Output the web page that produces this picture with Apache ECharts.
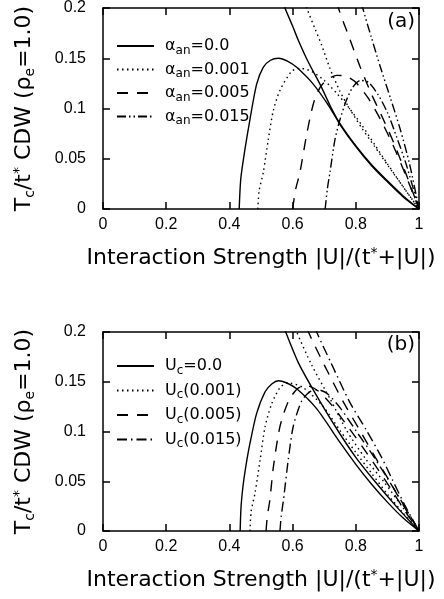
<!DOCTYPE html>
<html>
<head>
<meta charset="utf-8">
<script src="https://cdn.jsdelivr.net/npm/echarts@6/dist/echarts.min.js"></script>
<style>
  html, body { margin: 0; padding: 0; background: #fff; }
  #chart { width: 444px; height: 599px; }
</style>
</head>
<body>
<div id="chart"></div>
<script>
// panel (a): alpha_an curves, each has a dome branch and an upper branch
const a0Dome = [[0.431, 0], [0.436, 0.03], [0.449, 0.059], [0.465, 0.089], [0.486, 0.124], [0.507, 0.141], [0.53, 0.148], [0.555, 0.150], [0.585, 0.147], [0.613, 0.141], [0.666, 0.124], [0.718, 0.101], [0.75, 0.084], [0.8, 0.062], [0.85, 0.043], [0.9, 0.027], [0.95, 0.012], [1, 0]]
const a0Upper = [[0.55, 0.225], [0.576, 0.2], [0.6, 0.182], [0.618, 0.168], [0.65, 0.146], [0.687, 0.124], [0.72, 0.102], [0.75, 0.085], [0.8, 0.063], [0.85, 0.044], [0.9, 0.028], [0.95, 0.013], [1, 0]]
const a1Dome = [[0.49, 0], [0.494, 0.018], [0.507, 0.036], [0.523, 0.069], [0.539, 0.098], [0.56, 0.118], [0.597, 0.137], [0.625, 0.14], [0.66, 0.137], [0.7, 0.128], [0.74, 0.115], [0.78, 0.1], [0.82, 0.083], [0.86, 0.064], [0.9, 0.045], [0.95, 0.022], [1, 0]]
const a1Upper = [[0.62, 0.225], [0.645, 0.2], [0.67, 0.18], [0.692, 0.163], [0.718, 0.14], [0.75, 0.117], [0.78, 0.1], [0.82, 0.08], [0.86, 0.062], [0.9, 0.044], [0.95, 0.022], [1, 0]]
const a2Dome = [[0.6, 0], [0.61, 0.02], [0.623, 0.036], [0.645, 0.075], [0.666, 0.105], [0.687, 0.121], [0.71, 0.129], [0.74, 0.133], [0.77, 0.132], [0.8, 0.126], [0.84, 0.11], [0.88, 0.088], [0.92, 0.062], [0.96, 0.032], [1, 0]]
const a2Upper = [[0.725, 0.225], [0.745, 0.2], [0.78, 0.17], [0.813, 0.142], [0.85, 0.114], [0.88, 0.094], [0.92, 0.066], [0.96, 0.034], [1, 0]]
const a3Dome = [[0.703, 0], [0.71, 0.02], [0.718, 0.036], [0.734, 0.069], [0.75, 0.089], [0.77, 0.108], [0.79, 0.121], [0.815, 0.128], [0.84, 0.126], [0.87, 0.114], [0.9, 0.096], [0.93, 0.071], [0.96, 0.044], [1, 0]]
const a3Upper = [[0.805, 0.225], [0.822, 0.2], [0.85, 0.17], [0.877, 0.142], [0.91, 0.11], [0.94, 0.08], [0.97, 0.045], [1, 0]]

// panel (b): U_c curves
const b0Dome = [[0.434, 0], [0.437, 0.025], [0.443, 0.045], [0.452, 0.065], [0.465, 0.088], [0.486, 0.118], [0.513, 0.14], [0.535, 0.148], [0.555, 0.151], [0.58, 0.149], [0.613, 0.143], [0.676, 0.123], [0.75, 0.089], [0.8, 0.067], [0.85, 0.047], [0.9, 0.029], [0.95, 0.013], [1, 0]]
const b0Upper = [[0.55, 0.222], [0.578, 0.2], [0.62, 0.168], [0.687, 0.13], [0.745, 0.1], [0.8, 0.074], [0.86, 0.05], [0.93, 0.024], [1, 0]]
const b1Dome = [[0.465, 0], [0.469, 0.02], [0.481, 0.038], [0.497, 0.071], [0.513, 0.105], [0.534, 0.128], [0.56, 0.144], [0.585, 0.149], [0.634, 0.144], [0.697, 0.125], [0.75, 0.101], [0.8, 0.079], [0.85, 0.058], [0.9, 0.037], [0.95, 0.018], [1, 0]]
const b1Upper = [[0.585, 0.222], [0.613, 0.2], [0.66, 0.167], [0.72, 0.132], [0.771, 0.101], [0.83, 0.073], [0.89, 0.049], [0.95, 0.023], [1, 0]]
const b2Dome = [[0.516, 0], [0.52, 0.015], [0.528, 0.031], [0.539, 0.064], [0.56, 0.105], [0.586, 0.13], [0.615, 0.143], [0.645, 0.146], [0.68, 0.141], [0.72, 0.128], [0.77, 0.107], [0.82, 0.085], [0.87, 0.062], [0.92, 0.038], [0.96, 0.018], [1, 0]]
const b2Upper = [[0.622, 0.222], [0.65, 0.2], [0.7, 0.167], [0.76, 0.13], [0.813, 0.101], [0.86, 0.075], [0.905, 0.051], [0.95, 0.026], [1, 0]]
const b3Dome = [[0.56, 0], [0.564, 0.015], [0.571, 0.031], [0.586, 0.071], [0.602, 0.105], [0.629, 0.131], [0.655, 0.14], [0.68, 0.142], [0.71, 0.138], [0.75, 0.124], [0.8, 0.101], [0.85, 0.078], [0.9, 0.053], [0.95, 0.027], [1, 0]]
const b3Upper = [[0.648, 0.222], [0.676, 0.2], [0.72, 0.17], [0.78, 0.13], [0.834, 0.101], [0.88, 0.075], [0.915, 0.052], [0.955, 0.026], [1, 0]]

const namesA = ['α_an=0.0', 'α_an=0.001', 'α_an=0.005', 'α_an=0.015']
const namesB = ['U_c=0.0', 'U_c(0.001)', 'U_c(0.005)', 'U_c(0.015)']

const xTicks = [0, 0.2, 0.4, 0.6, 0.8, 1]
const yTicks = [0, 0.05, 0.1, 0.15, 0.2]

const tickFont = 'Liberation Sans'
const textFont = 'DejaVu Sans'

const dashA = ['solid', [1.5, 3.5], [11, 9], [9, 3, 1.5, 3, 1.5, 3]]
const dashB = ['solid', [1.5, 3.5], [11, 9], [10, 4, 1.5, 4]]

// 'α_an=0.0' -> rich text with subscript
function toRich (label) {
  return '{n|' + label.replace(/_([a-z]+)/g, '}{s|$1}{n|') + '}'
}

const richText = {
  n: { fontFamily: textFont, fontSize: 16, color: '#000' },
  s: { fontFamily: textFont, fontSize: 12, color: '#000', padding: [9, 0, 0, 0] }
}

const titleRich = {
  n: { fontFamily: textFont, fontSize: 22, color: '#000' },
  s: { fontFamily: textFont, fontSize: 14, color: '#000', padding: [11, 0, 0, 0] },
  p: { fontFamily: textFont, fontSize: 14, color: '#000', padding: [0, 0, 11, 0] }
}

const black = { color: '#000', width: 1.5 }

function xAxis (grid, pos) {
  const bottom = pos === 'bottom'
  return {
    type: 'value',
    gridIndex: grid,
    position: pos,
    min: xTicks[0],
    max: xTicks[xTicks.length - 1],
    interval: 0.2,
    axisLine: { show: true, onZero: false, lineStyle: black },
    axisTick: { show: true, inside: true, length: 7, lineStyle: black },
    splitLine: { show: false },
    axisLabel: { show: bottom, margin: 8, fontFamily: tickFont, fontSize: 16, color: '#000' },
    name: bottom ? '{n|Interaction Strength |U|/(t}{p|*}{n|+|U|)}' : '',
    nameLocation: 'middle',
    nameGap: 37,
    nameTextStyle: { rich: titleRich }
  }
}

function yAxis (grid, pos) {
  const left = pos === 'left'
  return {
    type: 'value',
    gridIndex: grid,
    position: pos,
    min: yTicks[0],
    max: yTicks[yTicks.length - 1],
    interval: 0.05,
    axisLine: { show: true, onZero: false, lineStyle: black },
    axisTick: { show: true, inside: true, length: 7, lineStyle: black },
    splitLine: { show: false },
    axisLabel: { show: left, margin: 17, fontFamily: tickFont, fontSize: 16, color: '#000' },
    name: left ? '{n|T}{s|c}{n|/t}{p|*}{n| CDW (ρ}{s|e}{n|=1.0)}' : '',
    nameLocation: 'middle',
    nameRotate: 90,
    nameGap: 66,
    nameTextStyle: { rich: titleRich }
  }
}

function curve (name, data, dash, axis) {
  return {
    type: 'line',
    name: name,
    data: data,
    xAxisIndex: axis,
    yAxisIndex: axis,
    symbol: 'none',
    showSymbol: false,
    smooth: 0.25,
    silent: true,
    color: '#000',
    lineStyle: { color: '#000', width: 1.4, type: dash }
  }
}

const domesA = [a0Dome, a1Dome, a2Dome, a3Dome]
const uppersA = [a0Upper, a1Upper, a2Upper, a3Upper]
const domesB = [b0Dome, b1Dome, b2Dome, b3Dome]
const uppersB = [b0Upper, b1Upper, b2Upper, b3Upper]

let series = []
namesA.forEach((n, i) => {
  series.push(curve(n, domesA[i], dashA[i], 0))
  series.push(curve(n, uppersA[i], dashA[i], 0))
})
namesB.forEach((n, i) => {
  series.push(curve(n, domesB[i], dashB[i], 2))
  series.push(curve(n, uppersB[i], dashB[i], 2))
})

function legend (names, top, gap) {
  return {
    data: names,
    orient: 'vertical',
    left: 111,
    top: top,
    itemWidth: 37,
    itemHeight: 12,
    itemGap: gap,
    selectedMode: false,
    formatter: toRich,
    // hide the symbol drawn in the middle of the legend line
    itemStyle: { opacity: 0 },
    lineStyle: { opacity: 1 },
    textStyle: { color: '#000', padding: [0, 0, 0, 6], rich: richText }
  }
}

const chart = echarts.init(document.getElementById('chart'), null, { renderer: 'canvas' })

chart.setOption({
  animation: false,
  backgroundColor: '#fff',
  grid: [
    { left: 103, top: 8, width: 316, height: 201 },
    { left: 103, top: 332, width: 316, height: 199 }
  ],
  xAxis: [xAxis(0, 'bottom'), xAxis(0, 'top'), xAxis(1, 'bottom'), xAxis(1, 'top')],
  yAxis: [yAxis(0, 'left'), yAxis(0, 'right'), yAxis(1, 'left'), yAxis(1, 'right')],
  legend: [legend(namesA, 33, 5), legend(namesB, 353, 6)],
  graphic: [
    { type: 'text', right: 29, top: 12, style: { text: '(a)', font: '20px "DejaVu Sans"', fill: '#000' } },
    { type: 'text', right: 29, top: 335, style: { text: '(b)', font: '20px "DejaVu Sans"', fill: '#000' } }
  ],
  series: series
})
</script>
</body>
</html>
